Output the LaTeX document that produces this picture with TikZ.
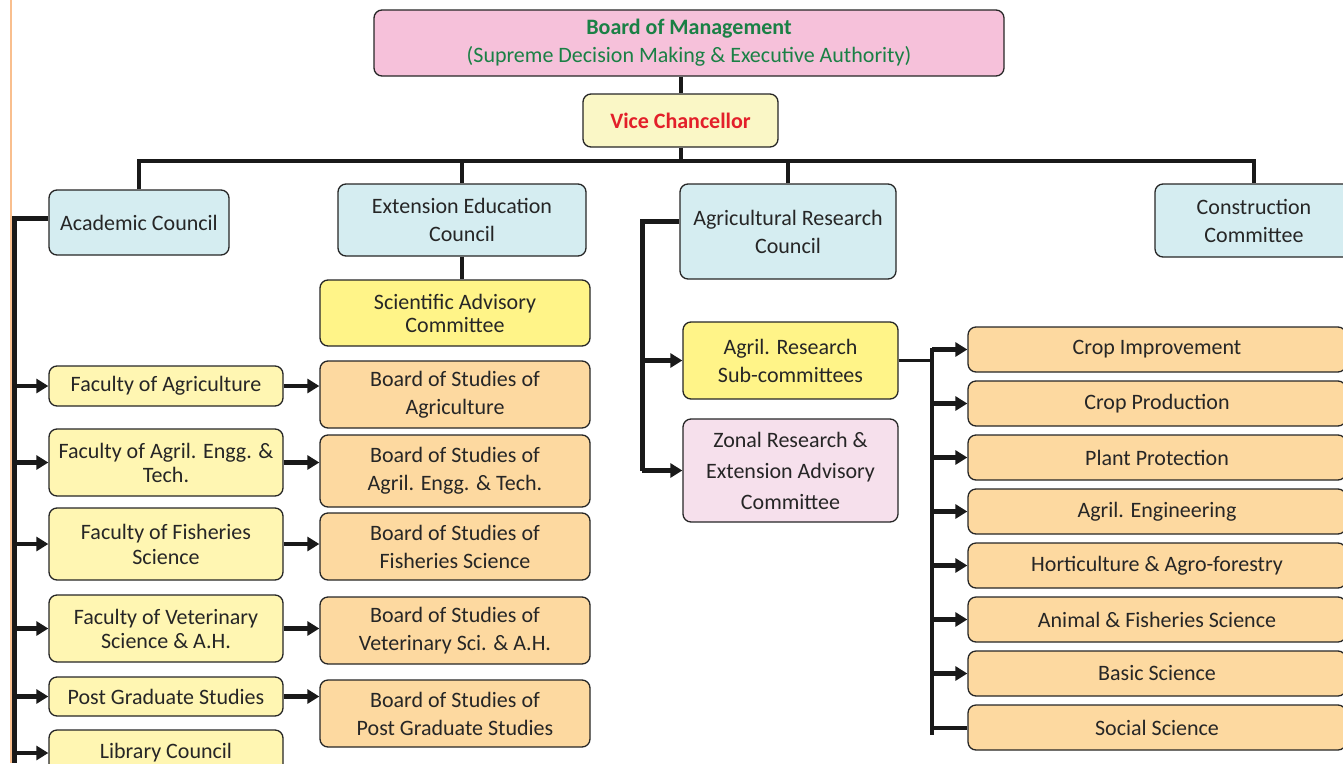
\documentclass[tikz,border=0pt]{standalone}
\usepackage{fontspec}
\setmainfont{Carlito}
\usepackage{tikz}
\usetikzlibrary{arrows.meta,calc}
\definecolor{boardpink}{HTML}{F6C1DA}
\definecolor{boardgreen}{HTML}{1A8045}
\definecolor{vcfill}{HTML}{FAF7C6}
\definecolor{vcred}{HTML}{E3202A}
\definecolor{councilblue}{HTML}{D5EDF1}
\definecolor{brightyellow}{HTML}{FFF488}
\definecolor{paleyellow}{HTML}{FFF6B2}
\definecolor{studyorange}{HTML}{FDD9A0}
\definecolor{zonalpink}{HTML}{F6E0EC}
\definecolor{edgeorange}{HTML}{F9BF8E}
\tikzstyle{box}=[draw=black!85,line width=1.3pt,rounded corners=8pt,align=center,inner sep=0pt,text=black!85,font=\fontsize{22}{28}\selectfont]
\tikzstyle{council}=[box,fill=councilblue]
\tikzstyle{faculty}=[box,fill=paleyellow,minimum width=234pt]
\tikzstyle{studies}=[box,fill=studyorange,minimum width=270pt]
\tikzstyle{area}=[box,fill=studyorange,minimum width=378pt,minimum height=45pt]
\tikzstyle{link}=[draw=black!90,line width=4pt]
\tikzstyle{branch}=[draw=black!90,line width=4.5pt,-{Triangle[length=12pt,width=14pt]}]

\begin{document}
\begin{tikzpicture}[x=1pt,y=-1pt]
\useasboundingbox (0,0) rectangle (1343,763);
\draw[edgeorange,line width=2pt] (11,0) -- (11,763);

\node [box,fill=boardpink,text=boardgreen,minimum width=630pt,minimum height=66pt] (bom) at (689,43)
  {\textbf{Board of Management}\\(Supreme Decision Making \& Executive Authority)};
\node [box,fill=vcfill,text=vcred,minimum width=195pt,minimum height=53pt] (vc) at (680.5,120.5)
  {\textbf{Vice Chancellor}};

\node [council,minimum width=180pt,minimum height=65pt] (acad) at (139,222.5) {Academic Council};
\node [council,minimum width=248pt,minimum height=72pt] (ext) at (462,220) {Extension Education\\Council};
\node [council,minimum width=216pt,minimum height=95pt] (arc) at (788,231.5) {Agricultural Research\\Council};
\node [council,minimum width=198pt,minimum height=73pt] (cons) at (1254,220.5) {Construction\\Committee};

\node [box,fill=brightyellow,minimum width=270pt,minimum height=66pt,font=\fontsize{22}{23}\selectfont] (sac) at (455,313)
  {Scientific Advisory\\Committee};

\node [faculty,minimum height=40pt] (facagri) at (166,386) {Faculty of Agriculture};
\node [faculty,minimum height=67pt,font=\fontsize{22}{24}\selectfont] (faceng) at (166,462.5) {Faculty of Agril. Engg. \&\\Tech.};
\node [faculty,minimum height=72pt,font=\fontsize{22}{25}\selectfont] (facfish) at (166,544) {Faculty of Fisheries\\Science};
\node [faculty,minimum height=67pt,font=\fontsize{22}{24}\selectfont] (facvet) at (166,628.5) {Faculty of Veterinary\\Science \& A.H.};
\node [faculty,minimum height=39pt] (pgs) at (166,696.5) {Post Graduate Studies};
\node [faculty,minimum height=46pt] (lib) at (166,753) {Library Council};

\node [studies,minimum height=67pt] (bosagri) at (455,394.5) {Board of Studies of\\Agriculture};
\node [studies,minimum height=72pt] (boseng) at (455,471) {Board of Studies of\\Agril. Engg. \& Tech.};
\node [studies,minimum height=67pt] (bosfish) at (455,546.5) {Board of Studies of\\Fisheries Science};
\node [studies,minimum height=67pt] (bosvet) at (455,630.5) {Board of Studies of\\Veterinary Sci. \& A.H.};
\node [studies,minimum height=67pt] (bospg) at (455,713.5) {Board of Studies of\\Post Graduate Studies};

\node [box,fill=brightyellow,minimum width=215pt,minimum height=77pt] (subc) at (790.5,360.5) {Agril. Research\\Sub-committees};
\node [box,fill=zonalpink,minimum width=215pt,minimum height=103pt,font=\fontsize{22}{31}\selectfont] (zonal) at (790.5,470.5)
  {Zonal Research \&\\Extension Advisory\\Committee};

\foreach \name/\label [count=\i] in {a1/Crop Improvement,a2/Crop Production,a3/Plant Protection,
    a4/Agril. Engineering,a5/Horticulture \& Agro-forestry,a6/Animal \& Fisheries Science,
    a7/Basic Science,a8/Social Science}
  \node [area] (\name) at (1157,{349.5+54*(\i-1)}) {\label};

\draw[link] (bom.south -| vc.north) -- (vc.north);
\draw[link] (vc.south) -- ++(0,13) coordinate (bus);
\draw[link] (acad.north) -- (acad.north |- bus) -- (cons.north |- bus) -- (cons.north);
\draw[link] (ext.north) -- (ext.north |- bus);
\draw[link] (arc.north) -- (arc.north |- bus);
\draw[link] (ext.south) -- (ext.south |- sac.north);

\coordinate (aspine) at (14,763);
\draw[link,line width=5pt] ([yshift=4pt]acad.west) -| (aspine);
\foreach \n in {facagri,faceng,facfish,facvet,pgs,lib}
  \draw[branch] (aspine |- \n.west) -- (\n.west);
\draw[branch] (facagri.east) -- (bosagri.west |- facagri.east);
\draw[branch] (faceng.east) -- (boseng.west |- faceng.east);
\draw[branch] (facfish.east) -- (bosfish.west |- facfish.east);
\draw[branch] (facvet.east) -- (bosvet.west |- facvet.east);
\draw[branch] (pgs.east) -- (bospg.west |- pgs.east);

\coordinate (rspine) at (642,470.5);
\draw[link,line width=5pt] ([yshift=10pt]arc.west) -| (rspine);
\draw[branch] (rspine |- subc.west) -- (subc.west);
\draw[branch] (rspine |- zonal.west) -- (zonal.west);

\coordinate (sspine) at (932,735);
\draw[link,line width=3pt] (subc.east) -- (subc.east -| sspine);
\draw[link] ([yshift=2pt]sspine |- a1.west) -- (sspine);
\foreach \i in {1,...,7}
  \draw[branch] (sspine |- a\i.west) -- (a\i.west);
\draw[link] (sspine |- a8.west) -- (a8.west);
\end{tikzpicture}
\end{document}
